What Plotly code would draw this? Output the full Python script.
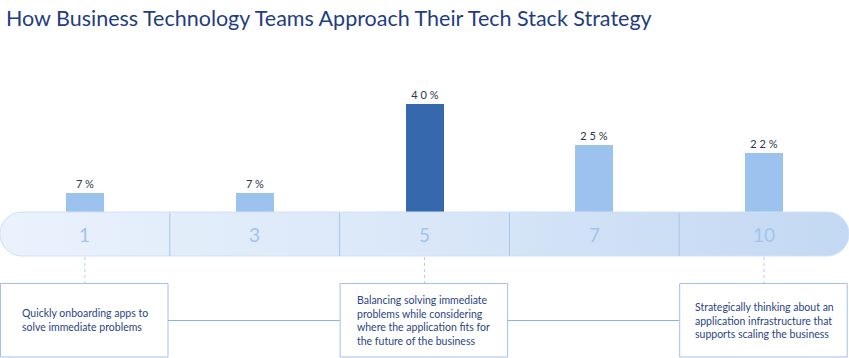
import plotly.graph_objects as go
import numpy as np

title = "How Business Technology Teams Approach Their Tech Stack Strategy"
scale_labels = ["1", "3", "5", "7", "10"]
values = [7, 7, 40, 25, 22]
bar_colors = ["#9cc3ee", "#9cc3ee", "#3568ad", "#9cc3ee", "#9cc3ee"]
box_texts = [
    "Quickly onboarding apps to<br>solve immediate problems",
    "Balancing solving immediate<br>problems while considering<br>where the application fits for<br>the future of the business",
    "Strategically thinking about an<br>application infrastructure that<br>supports scaling the business",
]
box_at = [0, 2, 4]

W, H = 849, 358
UNIT = W / 5.0          # px per category
PXY = 2.7               # px per percent
BASE = 212              # pixel row of value 0

def xd(px):
    return (px - UNIT / 2) / UNIT

def yd(py):
    return (BASE - py) / PXY

def pxp(px):
    return px / W

def pyp(py):
    return 1 - py / H

FONT = "Lato"
NAVY = "#1f3d80"

fig = go.Figure()

# timeline pill (decoration) with horizontal gradient
r = 22
xs, ys = [], []
for a in np.linspace(np.pi / 2, 3 * np.pi / 2, 30):
    xs.append(r + r * np.cos(a)); ys.append(234 - r * np.sin(a))
for a in np.linspace(-np.pi / 2, np.pi / 2, 30):
    xs.append(W - r + r * np.cos(a)); ys.append(234 - r * np.sin(a))
xs.append(xs[0]); ys.append(ys[0])
fig.add_trace(go.Scatter(
    x=[xd(v) for v in xs], y=[yd(v) for v in ys], mode="lines",
    fill="toself",
    fillgradient=dict(type="horizontal",
                      colorscale=[[0, "#eaf2fc"], [0.5, "#d9e7f8"], [1, "#c3d8f2"]]),
    line=dict(color="#d0e0f4", width=1), hoverinfo="skip", showlegend=False,
))

cats = list(range(len(values)))
fig.add_trace(go.Bar(
    x=cats, y=values, width=38 / UNIT,
    marker=dict(color=bar_colors, line=dict(width=0)),
    text=[" ".join(str(v)) + " %" for v in values],
    textposition="outside", cliponaxis=False,
    textfont=dict(family=FONT, size=11, color="#2b3349"),
    hoverinfo="skip", showlegend=False,
))

shapes = []
# dividers
for i in range(1, 5):
    x = i * UNIT
    shapes.append(dict(type="line", xref="paper", yref="paper",
                       x0=pxp(x), x1=pxp(x), y0=pyp(213), y1=pyp(256),
                       line=dict(color="#a9c6ec", width=1)))
# boxes, dotted connectors
bw = 168
for i in box_at:
    cx = (i + 0.5) * UNIT
    x0 = min(i * UNIT, W - bw - 1)
    shapes.append(dict(type="rect", xref="paper", yref="paper",
                       x0=pxp(x0 + 0.5), x1=pxp(x0 + bw), y0=pyp(283.5), y1=pyp(357),
                       line=dict(color="#a3c0e8", width=1), fillcolor="white"))
    shapes.append(dict(type="line", xref="paper", yref="paper",
                       x0=pxp(cx), x1=pxp(cx), y0=pyp(257), y1=pyp(283),
                       line=dict(color="#b5cdee", width=1, dash="dot")))
# horizontal connectors between boxes
for a, b in zip(box_at[:-1], box_at[1:]):
    xa = a * UNIT + bw
    xb = min(b * UNIT, W - bw - 1)
    shapes.append(dict(type="line", xref="paper", yref="paper",
                       x0=pxp(xa), x1=pxp(xb), y0=pyp(320.5), y1=pyp(320.5),
                       line=dict(color="#8fb1e0", width=1)))

annotations = []
annotations.append(dict(text=title, xref="paper", yref="paper", x=pxp(4), y=pyp(18),
                        xanchor="left", yanchor="middle", showarrow=False,
                        font=dict(family=FONT, size=21.5, color=NAVY)))
for i, lab in enumerate(scale_labels):
    annotations.append(dict(text=lab, x=i, xref="x", yref="paper", y=pyp(235),
                            xanchor="center", yanchor="middle", showarrow=False,
                            font=dict(family=FONT, size=19, color="#a3c4ec")))
text_x = [20, 355, 693]
for k, i in enumerate(box_at):
    annotations.append(dict(text=box_texts[k], xref="paper", yref="paper",
                            x=pxp(text_x[k]), y=pyp(320), xanchor="left", yanchor="middle",
                            align="left", showarrow=False,
                            font=dict(family=FONT, size=10.5, color="#2a4583")))

fig.update_layout(
    width=W, height=H, margin=dict(l=0, r=0, t=0, b=0),
    paper_bgcolor="white", plot_bgcolor="white",
    xaxis=dict(range=[-0.5, 4.5], visible=False, fixedrange=True),
    yaxis=dict(range=[yd(H), yd(0)], visible=False, fixedrange=True),
    shapes=shapes, annotations=annotations, bargap=0,
)
fig.write_html("out.html", config={"displayModeBar": False},
               post_script="document.body.style.margin='0';document.body.style.overflow='hidden';")
